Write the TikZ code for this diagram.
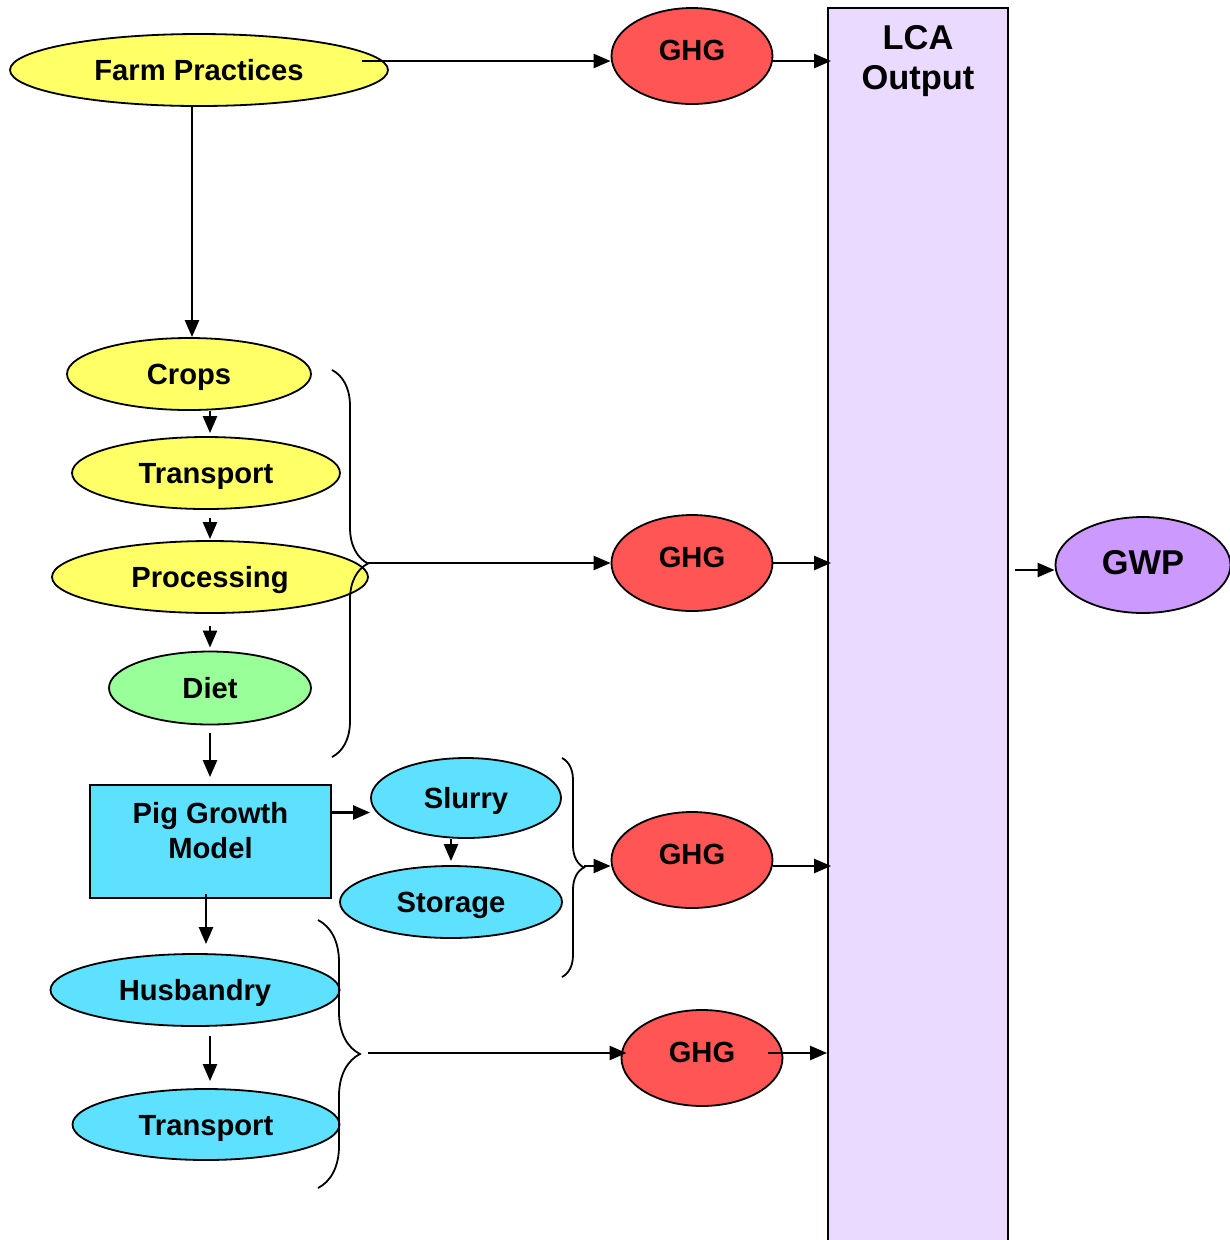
\documentclass[tikz,border=0pt]{standalone}
\usepackage{fontspec}
\setmainfont{Liberation Sans}
\usetikzlibrary{shapes.geometric,arrows.meta,decorations.pathreplacing}

% Changing colors
\definecolor{r255g255b102}{rgb}{1.000000,1.000000,0.400000}%
\definecolor{r255g85b85}{rgb}{1.000000,0.333333,0.333333}%
\definecolor{r94g224b255}{rgb}{0.368627,0.878431,1.000000}%
\definecolor{r153g255b153}{rgb}{0.600000,1.000000,0.600000}%
\definecolor{r204g153b255}{rgb}{0.800000,0.600000,1.000000}%
\definecolor{r234g218b255}{rgb}{0.917647,0.854902,1.000000}%

\tikzset{
  oval/.style={ellipse, draw, line width=0.018cm, inner sep=0pt, text height=0.21cm, text depth=0cm,
    font=\fontsize{8.3}{10}\selectfont\bfseries},
  ghg/.style={oval, fill=r255g85b85, minimum width=1.61cm, minimum height=0.96cm, text depth=0.12cm},
  arr/.style={line width=0.024cm, -{Triangle[length=0.17cm,width=0.14cm]}},
  brc/.style={line width=0.018cm, decorate, decoration={brace,amplitude=#1}},
}

\begin{document}
\begin{tikzpicture}
            \useasboundingbox (0.000000,0.000000) rectangle (12.300000,-12.400000);
            {\fontsize{8.3}{10}\selectfont\bfseries

            % Drawing box LCA Output
            \node [draw, line width=0.018cm, fill=r234g218b255, minimum width=1.80cm, minimum height=12.45cm, inner sep=0pt] (lca) at (9.180000,-6.305000) {};%
            \node [font=\fontsize{9.8}{11.4}\selectfont\bfseries, align=center] (lcatext) at (9.180000,-0.610000) {LCA\\Output};%

            % Drawing ovals of feed chain
            \node [oval, fill=r255g255b102, minimum width=3.78cm, minimum height=0.72cm] (farm) at (1.990000,-0.700000) {Farm Practices};%
            \node [oval, fill=r255g255b102, minimum width=2.44cm, minimum height=0.72cm] (crops) at (1.890000,-3.740000) {Crops};%
            \node [oval, fill=r255g255b102, minimum width=2.68cm, minimum height=0.72cm] (transA) at (2.060000,-4.730000) {Transport};%
            \node [oval, fill=r255g255b102, minimum width=3.16cm, minimum height=0.72cm] (proc) at (2.100000,-5.770000) {Processing};%
            \node [oval, fill=r153g255b153, minimum width=2.02cm, minimum height=0.73cm] (diet) at (2.100000,-6.880000) {Diet};%

            % Drawing box Pig Growth Model
            \node [draw, line width=0.018cm, fill=r94g224b255, minimum width=2.41cm, minimum height=1.13cm, align=center, text depth=0.22cm] (pig) at (2.105000,-8.415000) {Pig Growth\\Model};%

            % Drawing ovals of pig chain
            \node [oval, fill=r94g224b255, minimum width=1.90cm, minimum height=0.80cm] (slurry) at (4.660000,-7.980000) {Slurry};%
            \node [oval, fill=r94g224b255, minimum width=2.22cm, minimum height=0.72cm] (storage) at (4.510000,-9.020000) {Storage};%
            \node [oval, fill=r94g224b255, minimum width=2.89cm, minimum height=0.72cm] (husb) at (1.950000,-9.900000) {Husbandry};%
            \node [oval, fill=r94g224b255, minimum width=2.67cm, minimum height=0.71cm] (transB) at (2.060000,-11.245000) {Transport};%

            % Drawing ovals GHG and GWP
            \node [ghg] (ghgA) at (6.920000,-0.560000) {GHG};%
            \node [ghg] (ghgB) at (6.920000,-5.630000) {GHG};%
            \node [ghg] (ghgC) at (6.920000,-8.600000) {GHG};%
            \node [ghg] (ghgD) at (7.020000,-10.580000) {GHG};%
            \node [oval, fill=r204g153b255, minimum width=1.75cm, minimum height=0.96cm, font=\fontsize{9.8}{11.4}\selectfont\bfseries, text height=0.25cm, text depth=0.06cm] (gwp) at (11.430000,-5.650000) {GWP};%

            % Drawing braces
            \draw [brc=0.36cm] (3.320000,-3.700000) -- (3.320000,-7.570000);%
            \draw [brc=0.22cm] (5.620000,-7.580000) -- (5.620000,-9.770000);%
            \draw [brc=0.42cm] (3.180000,-9.200000) -- (3.180000,-11.880000);%
            \coordinate (farmout) at (3.620000,-0.610000);%
            \coordinate (tipA) at (3.680000,-5.630000);%
            \coordinate (tipB) at (5.840000,-8.660000);%
            \coordinate (tipC) at (3.600000,-10.530000);%
            \coordinate (cropsin) at ([xshift=0.03cm]crops.north);%
            \coordinate (husbin) at ([xshift=0.11cm]husb.north);%

            % Drawing arrows down the chains
            \draw [arr] (farm.south -| cropsin) -- (cropsin);%
            \draw [arr] (crops.south -| diet) -- ([yshift=0.03cm]transA.north -| diet);%
            \draw [arr, shorten <=0.08cm] (transA.south -| diet) -- ([yshift=0.01cm]proc.north -| diet);%
            \draw [arr, shorten <=0.12cm] (proc.south -| diet) -- ([yshift=0.03cm]diet.north);%
            \draw [arr, shorten <=0.08cm, shorten >=0.07cm] (diet.south) -- (pig.north -| diet);%
            \draw [arr, shorten <=-0.05cm, shorten >=0.09cm] (pig.south -| husbin) -- (husbin);%
            \draw [arr, shorten <=0.09cm, shorten >=0.07cm] (husb.south -| diet) -- (transB.north -| diet);%
            \draw [arr] ([yshift=0.29cm]pig.east) -- ([yshift=0.29cm]pig.east -| slurry.west);%
            \draw [arr, shorten >=0.04cm] (slurry.south -| storage) -- (storage.north);%

            % Drawing arrows to GHG
            \draw [arr] (farmout) -- (farmout -| ghgA.west);%
            \draw [arr] (tipA) -- (tipA -| ghgB.west);%
            \draw [arr] (tipB) -- (tipB -| ghgC.west);%
            \draw [arr, shorten <=0.08cm, shorten >=-0.06cm] (tipC) -- (tipC -| ghgD.west);%

            % Drawing arrows to LCA Output
            \draw [arr, shorten >=-0.04cm] (farmout -| ghgA.east) -- (farmout -| lca.west);%
            \draw [arr, shorten >=-0.04cm] (ghgB.east) -- (ghgB.east -| lca.west);%
            \draw [arr, shorten >=-0.04cm] (tipB -| ghgC.east) -- (tipB -| lca.west);%
            \draw [arr] ([xshift=-0.15cm]tipC -| ghgD.east) -- (tipC -| lca.west);%
            \draw [arr, shorten <=0.06cm] ([yshift=-0.05cm]gwp.west -| lca.east) -- ([yshift=-0.05cm]gwp.west);%
            }
\end{tikzpicture}
\end{document}
